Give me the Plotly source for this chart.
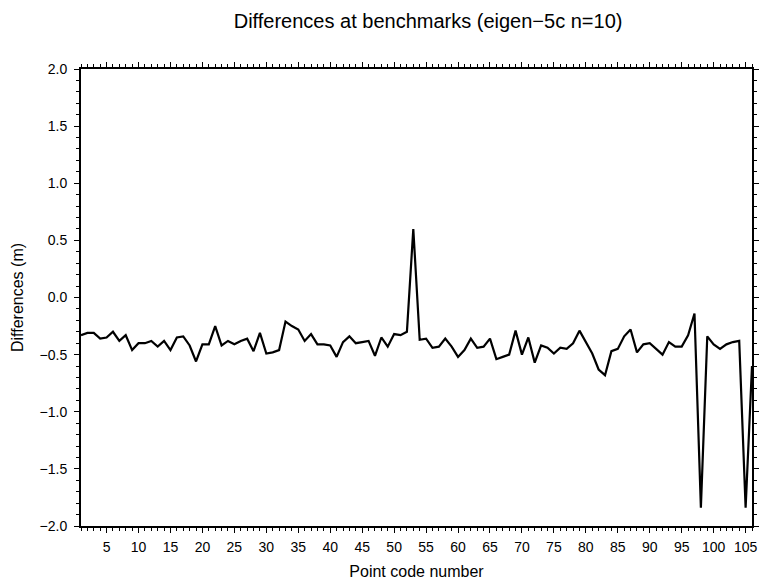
import plotly.graph_objects as go

# Point code numbers 1..106 and differences (m)
point_code = list(range(1, 107))
differences = [
    -0.33, -0.31, -0.31, -0.36, -0.35, -0.30, -0.38, -0.33, -0.46, -0.40,
    -0.40, -0.38, -0.43, -0.38, -0.46, -0.35, -0.34, -0.42, -0.56, -0.41,
    -0.41, -0.25, -0.42, -0.38, -0.41, -0.38, -0.36, -0.47, -0.31, -0.49,
    -0.48, -0.46, -0.21, -0.25, -0.28, -0.38, -0.32, -0.41, -0.41, -0.42,
    -0.52, -0.39, -0.34, -0.40, -0.39, -0.38, -0.51, -0.35, -0.43, -0.32,
    -0.33, -0.30, 0.60, -0.37, -0.36, -0.44, -0.43, -0.36, -0.43, -0.52,
    -0.46, -0.36, -0.44, -0.43, -0.36, -0.54, -0.52, -0.50, -0.29, -0.50,
    -0.35, -0.57, -0.42, -0.44, -0.49, -0.44, -0.45, -0.40, -0.29, -0.39,
    -0.49, -0.63, -0.68, -0.47, -0.45, -0.34, -0.28, -0.48, -0.41, -0.40,
    -0.45, -0.50, -0.39, -0.43, -0.43, -0.33, -0.14, -1.84, -0.34, -0.41,
    -0.45, -0.41, -0.39, -0.38, -1.84, -0.60,
]

title_text = "Differences at benchmarks (eigen\u22125c n=10)"
x_title = "Point code number"
y_title = "Differences (m)"

fig = go.Figure()
fig.add_trace(go.Scatter(
    x=point_code, y=differences, mode="lines",
    line=dict(color="black", width=2.2), hoverinfo="x+y",
))

axis_common = dict(
    showline=True, linecolor="black", linewidth=2, mirror="ticks",
    ticks="outside", tickcolor="black", tickwidth=1, ticklen=5,
    showgrid=False, zeroline=False, automargin=False,
    tickfont=dict(size=14, color="black"),
)

fig.update_layout(
    width=761, height=583,
    margin=dict(l=81, r=9, t=69, b=57),
    paper_bgcolor="white", plot_bgcolor="white",
    font=dict(family="Liberation Sans, Arial, sans-serif", color="black"),
    title=dict(text=title_text, x=0.5625, xanchor="center", y=0.964,
               yanchor="middle", font=dict(size=20)),
    showlegend=False,
    xaxis=dict(
        axis_common, range=[1, 106], tick0=0, dtick=5, ticklabelstandoff=2,
        minor=dict(dtick=1, tick0=0, ticks="outside", ticklen=3, tickcolor="black"),
        title=dict(text=x_title, font=dict(size=16), standoff=12),
    ),
    yaxis=dict(
        axis_common, range=[-2, 2], tick0=0, dtick=0.5, tickformat=".1f",
        ticklabelstandoff=4,
        minor=dict(dtick=0.1, tick0=0, ticks="outside", ticklen=3, tickcolor="black"),
        title=dict(text=y_title, font=dict(size=16), standoff=12),
    ),
)

# drop the browser's default 8px body margin so the figure fills the window
fig.write_html(
    "out.html",
    config={"displayModeBar": False},
    post_script="document.body.style.margin='0';document.body.style.overflow='hidden';",
)
